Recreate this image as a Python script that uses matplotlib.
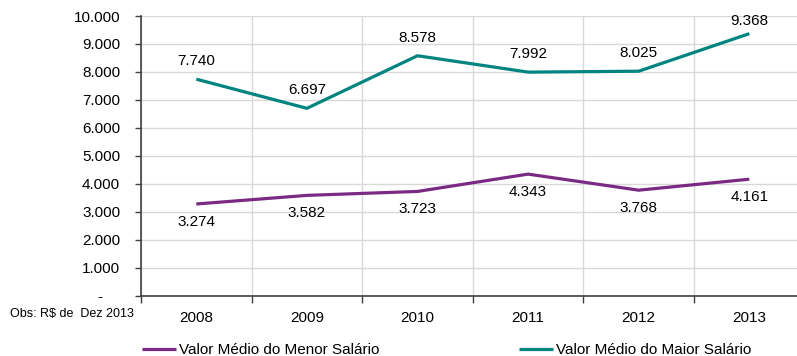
import numpy as np
import matplotlib.pyplot as plt
from matplotlib.ticker import FixedLocator

plt.rcParams['font.family'] = ['Liberation Sans', 'DejaVu Sans']

anos = ['2008', '2009', '2010', '2011', '2012', '2013']
menor = [3274, 3582, 3723, 4343, 3768, 4161]
maior = [7740, 6697, 8578, 7992, 8025, 9368]
yticks = [0, 1000, 2000, 3000, 4000, 5000, 6000, 7000, 8000, 9000, 10000]

cor_menor = '#7B2A83'
cor_maior = '#00847F'
fs = 11

def fmt(v):
    return '{:,}'.format(v).replace(',', '.')

fig = plt.figure(figsize=(7.97, 3.56), dpi=100)
ax = fig.add_axes([141/797, 60.5/356, 663.6/797, 279.5/356])

x = np.arange(len(anos))
l1, = ax.plot(x, menor, color=cor_menor, lw=2.3, solid_capstyle='butt')
l2, = ax.plot(x, maior, color=cor_maior, lw=2.3, solid_capstyle='butt')

# rotulos: maior acima, menor abaixo (o ultimo fica mais perto por causa do topo)
for xi, v in zip(x, maior):
    dy = 9 if v > 9000 else 13
    ax.annotate(fmt(v), (xi, v), xytext=(0, dy), textcoords='offset points',
                ha='center', va='center', fontsize=fs, color='black')
for xi, v in zip(x, menor):
    ax.annotate(fmt(v), (xi, v), xytext=(0, -13), textcoords='offset points',
                ha='center', va='center', fontsize=fs, color='black')

ax.set_xlim(-0.5, 5.5)
ax.set_ylim(0, 10000)

ax.set_yticks(yticks)
ax.set_yticklabels(['-    '] + [fmt(v) for v in yticks[1:]], fontsize=fs)
ax.tick_params(axis='y', length=4, width=1, color='#404040', pad=11)

ax.set_xticks(x)
ax.set_xticklabels(anos, fontsize=fs)
ax.tick_params(axis='x', which='major', length=0, pad=11)
ax.xaxis.set_minor_locator(FixedLocator(np.arange(-0.5, 6, 1)))
ax.tick_params(axis='x', which='minor', length=5, width=1, color='#404040')

ax.grid(True, axis='y', color='#D9D9D9', lw=1)
ax.grid(True, axis='x', which='minor', color='#D9D9D9', lw=1)
ax.set_axisbelow(True)

for s in ['top', 'right']:
    ax.spines[s].set_visible(False)
ax.spines['left'].set_color('#404040')
ax.spines['bottom'].set_color('#404040')
ax.spines['left'].set_linewidth(1.2)
ax.spines['bottom'].set_linewidth(1.2)

fig.text(10/797, 1 - 314/356, 'Obs: R$ de  Dez 2013', fontsize=9, va='center', ha='left')

fig.legend([l1], ['Valor Médio do Menor Salário'], loc='center left',
           bbox_to_anchor=(142/797, 1 - 350/356), frameon=False, fontsize=fs,
           handlelength=2.2, handletextpad=0.2, borderpad=0, borderaxespad=0)
fig.legend([l2], ['Valor Médio do Maior Salário'], loc='center left',
           bbox_to_anchor=(519/797, 1 - 350/356), frameon=False, fontsize=fs,
           handlelength=2.2, handletextpad=0.2, borderpad=0, borderaxespad=0)

fig.savefig('out.png', dpi=100)
